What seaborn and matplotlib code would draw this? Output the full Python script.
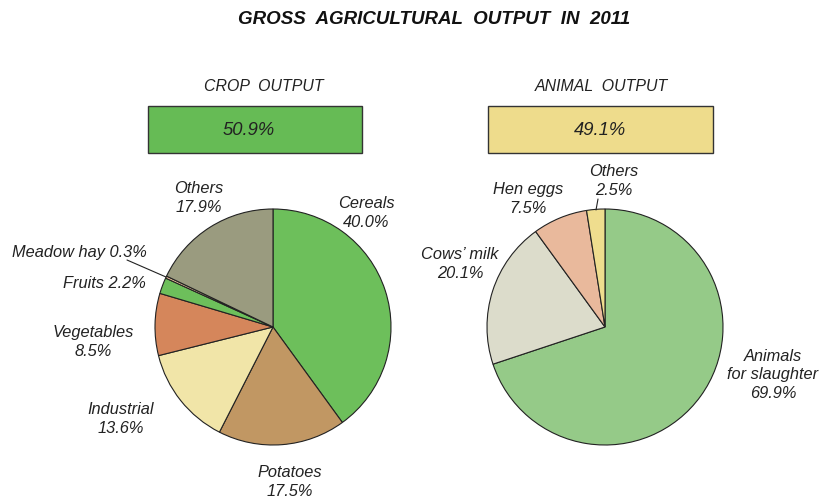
import numpy as np
import matplotlib
matplotlib.use("Agg")
import matplotlib.pyplot as plt
import seaborn as sns
from matplotlib.patches import Rectangle

# data
crop_labels = ["Cereals", "Potatoes", "Industrial", "Vegetables", "Fruits", "Meadow hay", "Others"]
crop_values = [40.0, 17.5, 13.6, 8.5, 2.2, 0.3, 17.9]
crop_colors = ["#6dbf5b", "#c19763", "#f1e5a8", "#d5865b", "#6dbf5b", "#f2c9a0", "#9a9b7f"]

animal_labels = ["Animals\nfor slaughter", "Cows\u2019 milk", "Hen eggs", "Others"]
animal_values = [69.9, 20.1, 7.5, 2.5]
animal_colors = ["#95ca88", "#dcdccb", "#e9b99c", "#efdd8e"]

crop_share = 50.9
animal_share = 49.1

sns.set_theme(style="white")
plt.rcParams['font.family'] = ['Liberation Sans', 'DejaVu Sans']

W, H = 824, 499
fig = plt.figure(figsize=(W / 100, H / 100), dpi=100)
ax = fig.add_axes([0, 0, 1, 1])

def py(y):
    # pixel row -> data y
    return H - y

edge = dict(edgecolor="#222222", linewidth=0.8)

# both pies clockwise from 12 o'clock
ax.pie(crop_values, colors=crop_colors, startangle=90, counterclock=False,
       center=(273, py(327)), radius=118, wedgeprops=edge, frame=True)
ax.pie(animal_values, colors=animal_colors, startangle=90, counterclock=False,
       center=(605, py(327)), radius=118, wedgeprops=edge, frame=True)
ax.set_xlim(0, W)
ax.set_ylim(0, H)
ax.set_aspect("equal")
ax.set_axis_off()

txt = dict(fontsize=11.8, style="italic", color="#222222", ha="center", va="center",
           linespacing=1.3)

ax.text(434, py(19), "GROSS  AGRICULTURAL  OUTPUT  IN  2011", fontsize=13.5,
        fontweight="bold", style="italic", color="#111111", ha="center", va="center")

ax.text(264, py(86), "CROP  OUTPUT", **{**txt, "fontsize": 11.4})
ax.text(601, py(86), "ANIMAL  OUTPUT", **{**txt, "fontsize": 11.4})

ax.add_patch(Rectangle((148, py(153)), 214, 47, facecolor="#66bb55", edgecolor="#333333", lw=1))
ax.add_patch(Rectangle((488, py(153)), 225, 47, facecolor="#eedc8c", edgecolor="#333333", lw=1))
ax.text(249, py(130), f"{crop_share}%", fontsize=13.2, style="italic", color="#222222",
        ha="center", va="center")
ax.text(600, py(130), f"{animal_share}%", fontsize=13.2, style="italic", color="#222222",
        ha="center", va="center")

# crop labels
ax.text(366, py(213), f"{crop_labels[0]}\n{crop_values[0]}%", **txt)
ax.text(290, py(482), f"{crop_labels[1]}\n{crop_values[1]}%", **txt)
ax.text(121, py(419), f"{crop_labels[2]}\n{crop_values[2]}%", **txt)
ax.text(93, py(342), f"{crop_labels[3]}\n{crop_values[3]}%", **txt)
ax.text(146, py(283), f"{crop_labels[4]} {crop_values[4]}%", **{**txt, "ha": "right"})
ax.text(147, py(252), f"{crop_labels[5]} {crop_values[5]}%", **{**txt, "ha": "right"})
ax.text(199, py(198), f"{crop_labels[6]}\n{crop_values[6]}%", **txt)
ax.plot([127, 166], [py(260), py(277)], color="#222222", lw=0.8)

# animal labels
ax.text(773, py(375), f"{animal_labels[0]}\n{animal_values[0]}%", **txt)
ax.text(460, py(264), f"{animal_labels[1]}\n{animal_values[1]}%", **txt)
ax.text(528, py(199), f"{animal_labels[2]}\n{animal_values[2]}%", **txt)
ax.text(614, py(181), f"{animal_labels[3]}\n{animal_values[3]}%", **txt)
ax.plot([598, 596], [py(199), py(210)], color="#222222", lw=0.8)

fig.savefig("out.png", dpi=100, facecolor="white")
